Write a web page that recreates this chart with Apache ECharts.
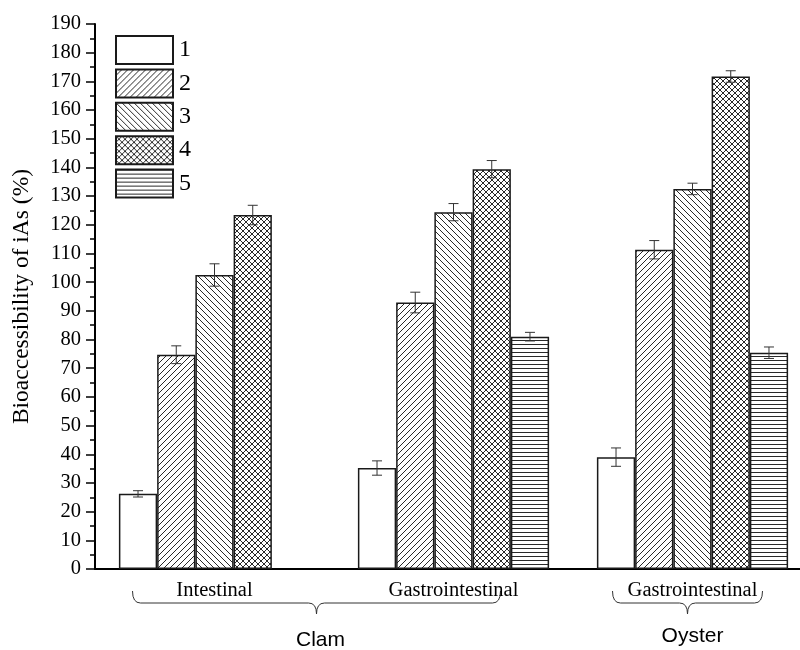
<!DOCTYPE html>
<html>
<head>
<meta charset="utf-8">
<script src="https://cdn.jsdelivr.net/npm/echarts@6/dist/echarts.min.js"></script>
<style>
html,body{margin:0;padding:0;background:#fff;}
#chart{width:800px;height:650px;}
</style>
</head>
<body>
<div id="chart"></div>
<script>
// ---- Data ----
var categories = ['Intestinal', 'Gastrointestinal', 'Gastrointestinal'];
var seriesNames = ['1', '2', '3', '4', '5'];
var s1 = [26.2, 35.2, 39.0];
var s2 = [74.7, 92.9, 111.3];
var s3 = [102.5, 124.4, 132.5];
var s4 = [123.4, 139.4, 171.7];
var s5 = [null, 81.0, 75.4];
var e1 = [1.1, 2.5, 3.2];
var e2 = [3.1, 3.6, 3.2];
var e3 = [3.9, 3.0, 2.0];
var e4 = [3.4, 3.0, 2.0];
var e5 = [null, 1.5, 2.0];
var groupLabels = ['Clam', 'Oyster'];
var yTicks = {min: 0, max: 190, interval: 10};

var values = [s1, s2, s3, s4, s5];
var errors = [e1, e2, e3, e4, e5];

// ---- Hatch patterns ----
function makePattern(type) {
  if (type === 'none') { return '#fff'; }
  var s = type === 'h' ? 4 : 6;
  var c = document.createElement('canvas');
  c.width = s; c.height = s;
  var ctx = c.getContext('2d');
  ctx.fillStyle = '#fff';
  ctx.fillRect(0, 0, s, s);
  ctx.strokeStyle = '#111';
  ctx.lineWidth = 0.9;
  ctx.beginPath();
  if (type === '/' || type === 'x') {
    for (var k = -1; k <= 1; k++) {
      ctx.moveTo(k * s, s); ctx.lineTo(k * s + s, 0);
    }
  }
  if (type === '\\' || type === 'x') {
    for (var k2 = -1; k2 <= 1; k2++) {
      ctx.moveTo(k2 * s, 0); ctx.lineTo(k2 * s + s, s);
    }
  }
  if (type === 'h') {
    ctx.moveTo(0, 0.5); ctx.lineTo(s, 0.5);
  }
  ctx.stroke();
  return {image: c, repeat: 'repeat'};
}
var patterns = ['none', '/', '\\', 'x', 'h'];

var GAP = 0.2;
var NB = 5;

var series = [];
values.forEach(function (vals, i) {
  series.push({
    name: seriesNames[i],
    type: 'bar',
    data: vals.map(function (v) { return v == null ? '-' : v; }),
    barGap: '0%',
    barCategoryGap: (GAP * 100) + '%',
    itemStyle: {color: makePattern(patterns[i]), borderColor: '#1a1a1a', borderWidth: 1.5},
    emphasis: {disabled: true},
    z: 2
  });
});
errors.forEach(function (errs, i) {
  var d = [];
  errs.forEach(function (e, j) {
    if (e != null && values[i][j] != null) d.push([j, values[i][j] - e, values[i][j] + e]);
  });
  series.push({
    type: 'custom',
    name: 'err' + i,
    data: d,
    encode: {x: 0, y: [1, 2]},
    z: 5,
    silent: true,
    renderItem: (function (idx) {
      return function (params, api) {
        var cat = api.value(0);
        var band = api.size([1, 0])[0];
        var bw = band * (1 - GAP) / NB;
        var cx = api.coord([cat, 0])[0] + (idx - (NB - 1) / 2) * bw;
        var lo = api.coord([cat, api.value(1)])[1];
        var hi = api.coord([cat, api.value(2)])[1];
        var hw = 5;
        var st = {stroke: '#333', lineWidth: 1};
        return {
          type: 'group',
          children: [
            {type: 'line', shape: {x1: cx, y1: lo, x2: cx, y2: hi}, style: st},
            {type: 'line', shape: {x1: cx - hw, y1: lo, x2: cx + hw, y2: lo}, style: st},
            {type: 'line', shape: {x1: cx - hw, y1: hi, x2: cx + hw, y2: hi}, style: st}
          ]
        };
      };
    })(i)
  });
});

var chart = echarts.init(document.getElementById('chart'), null, {renderer: 'canvas'});
var serif = 'Liberation Serif, Times New Roman, serif';
chart.setOption({
  animation: false,
  backgroundColor: '#fff',
  grid: {left: 95, top: 24, width: 717, height: 545, outerBoundsMode: 'none', containLabel: false},
  legend: {
    data: seriesNames,
    orient: 'vertical',
    left: 115,
    top: 35,
    padding: 0,
    itemWidth: 57,
    itemHeight: 28,
    itemGap: 3.4,
    icon: 'rect',
    selectedMode: false,
    textStyle: {fontFamily: serif, fontSize: 24, color: '#000', padding: [0, 0, 0, 1]}
  },
  xAxis: {
    type: 'category',
    data: categories,
    axisLine: {lineStyle: {color: '#000', width: 2}},
    axisTick: {show: false},
    axisLabel: {fontFamily: serif, fontSize: 20.5, color: '#000', margin: 11}
  },
  yAxis: {
    type: 'value',
    min: yTicks.min, max: yTicks.max, interval: yTicks.interval,
    name: 'Bioaccessibility of iAs (%)',
    nameLocation: 'middle',
    nameGap: 61,
    nameTextStyle: {fontFamily: serif, fontSize: 23.5, color: '#000'},
    axisLine: {show: true, lineStyle: {color: '#000', width: 2}},
    axisTick: {show: true, inside: false, length: 9, lineStyle: {color: '#000', width: 1.5}},
    minorTick: {show: true, splitNumber: 2, length: 5, lineStyle: {color: '#000', width: 1.5}},
    splitLine: {show: false},
    axisLabel: {fontFamily: serif, fontSize: 20.5, color: '#000', margin: 14}
  },
  series: series
});

// ---- Group braces and labels (annotations placed from axis coordinates) ----
function braceEls(x0, x1, yTop, yLine, yTip) {
  var xm = (x0 + x1) / 2;
  var r = 8;
  var st = {stroke: '#333', lineWidth: 1, fill: null};
  return [
    {type: 'bezierCurve', shape: {x1: x0, y1: yTop, cpx1: x0, cpy1: yLine, x2: x0 + r, y2: yLine}, style: st},
    {type: 'line', shape: {x1: x0 + r, y1: yLine, x2: xm - r, y2: yLine}, style: st},
    {type: 'bezierCurve', shape: {x1: xm - r, y1: yLine, cpx1: xm, cpy1: yLine, x2: xm, y2: yTip}, style: st},
    {type: 'bezierCurve', shape: {x1: xm + r, y1: yLine, cpx1: xm, cpy1: yLine, x2: xm, y2: yTip}, style: st},
    {type: 'line', shape: {x1: xm + r, y1: yLine, x2: x1 - r, y2: yLine}, style: st},
    {type: 'bezierCurve', shape: {x1: x1, y1: yTop, cpx1: x1, cpy1: yLine, x2: x1 - r, y2: yLine}, style: st}
  ];
}
var c0 = chart.convertToPixel({xAxisIndex: 0}, 0);
var c1 = chart.convertToPixel({xAxisIndex: 0}, 1);
var c2 = chart.convertToPixel({xAxisIndex: 0}, 2);
var base = chart.convertToPixel({yAxisIndex: 0}, 0);
var yTop = base + 22, yLine = base + 34, yTip = base + 45;
var bx0 = c0 - 82, bx1 = c1 + 47;
var ox0 = c2 - 80, ox1 = c2 + 70;
var els = braceEls(bx0, bx1, yTop, yLine, yTip).concat(braceEls(ox0, ox1, yTop, yLine, yTip));
els.push({type: 'text', x: (bx0 + bx1) / 2 + 4, y: base + 71, style: {text: groupLabels[0], font: '21px Liberation Sans, Arial, sans-serif', fill: '#000', textAlign: 'center', textVerticalAlign: 'middle'}});
els.push({type: 'text', x: (ox0 + ox1) / 2 + 5, y: base + 67, style: {text: groupLabels[1], font: '21px Liberation Sans, Arial, sans-serif', fill: '#000', textAlign: 'center', textVerticalAlign: 'middle'}});
chart.setOption({graphic: els});
</script>
</body>
</html>
